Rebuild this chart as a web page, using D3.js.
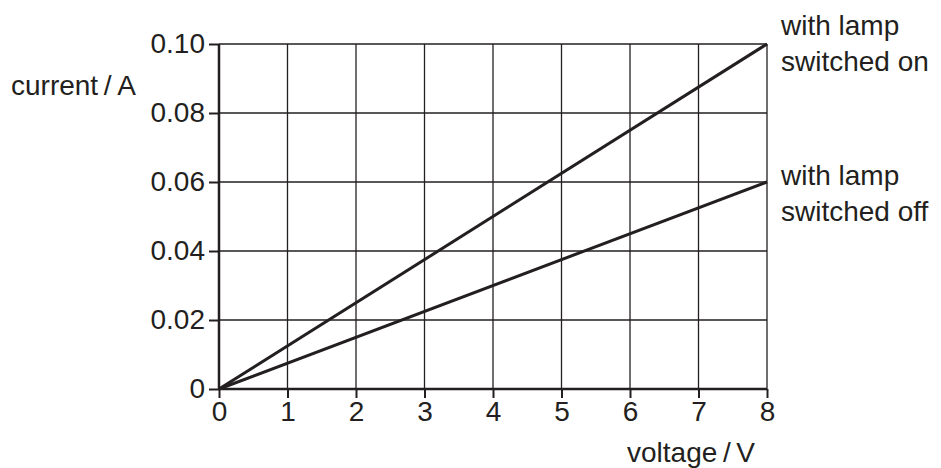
<!DOCTYPE html>
<html>
<head>
<meta charset="utf-8">
<script src="https://cdn.jsdelivr.net/npm/d3@7"></script>
<style>
  body { margin: 0; background: #fff; }
  text { font-family: "Liberation Sans", Arial, sans-serif; fill: #231f20; }
</style>
</head>
<body>
<div id="container"></div>
<script>
// data
const voltage = [0, 8];
const currentOn = [0, 0.10];
const currentOff = [0, 0.06];
const xTicks = [0, 1, 2, 3, 4, 5, 6, 7, 8];
const yTicks = [0, 0.02, 0.04, 0.06, 0.08, 0.10];
const yTickLabels = ["0", "0.02", "0.04", "0.06", "0.08", "0.10"];

const width = 941, height = 468;
const INK = "#231f20";
const FS = 28;

const x = d3.scaleLinear().domain([0, 8]).range([219, 767]);
const y = d3.scaleLinear().domain([0, 0.10]).range([389, 44]);

const svg = d3.select("#container").append("svg")
    .attr("width", width)
    .attr("height", height);

// grid
svg.append("g").selectAll("line").data(xTicks.slice(1)).enter().append("line")
    .attr("x1", d => x(d)).attr("x2", d => x(d))
    .attr("y1", y(0)).attr("y2", y(0.10))
    .attr("stroke", INK).attr("stroke-width", 1.3);
svg.append("g").selectAll("line").data(yTicks.slice(1)).enter().append("line")
    .attr("x1", x(0)).attr("x2", x(8))
    .attr("y1", d => y(d)).attr("y2", d => y(d))
    .attr("stroke", INK).attr("stroke-width", 1.3);

// axes
const xAxis = d3.axisBottom(x).tickValues(xTicks).tickSize(9).tickPadding(3).tickFormat(d3.format("d"));
const yAxis = d3.axisLeft(y).tickValues(yTicks).tickSize(10).tickPadding(4)
    .tickFormat((d, i) => yTickLabels[i]);

const gx = svg.append("g").attr("transform", `translate(0,${y(0)})`).call(xAxis);
const gy = svg.append("g").attr("transform", `translate(${x(0)},0)`).call(yAxis);

[gx, gy].forEach(g => {
  g.select(".domain").attr("stroke", INK).attr("stroke-width", 2.5);
  g.selectAll(".tick line").attr("stroke", INK).attr("stroke-width", 2);
  g.selectAll(".tick text").attr("font-size", FS)
    .attr("font-family", "Liberation Sans, Arial, sans-serif").attr("fill", INK);
});
gx.select(".domain").attr("d", `M${x(0)},0H${x(8)}`);
gy.select(".domain").attr("d", `M0,${y(0)}V${y(0.10)}`);

// series
const line = d3.line().x(d => x(d[0])).y(d => y(d[1]));
[currentOn, currentOff].forEach(series => {
  svg.append("path")
    .datum(voltage.map((v, i) => [v, series[i]]))
    .attr("d", line)
    .attr("fill", "none")
    .attr("stroke", INK)
    .attr("stroke-width", 3);
});

// labels
svg.append("text").attr("x", 11).attr("y", 95).attr("font-size", FS).text("current\u2009/\u2009A");
svg.append("text").attr("x", 627).attr("y", 462).attr("font-size", FS).text("voltage\u2009/\u2009V");

const legend = [
  { lines: ["with lamp", "switched on"], base: 35 },
  { lines: ["with lamp", "switched off"], base: 185 }
];
legend.forEach(l => {
  const t = svg.append("text").attr("x", 781).attr("y", l.base).attr("font-size", FS);
  l.lines.forEach((s, i) => t.append("tspan").attr("x", 781).attr("dy", i ? 36 : 0).text(s));
});
</script>
</body>
</html>
